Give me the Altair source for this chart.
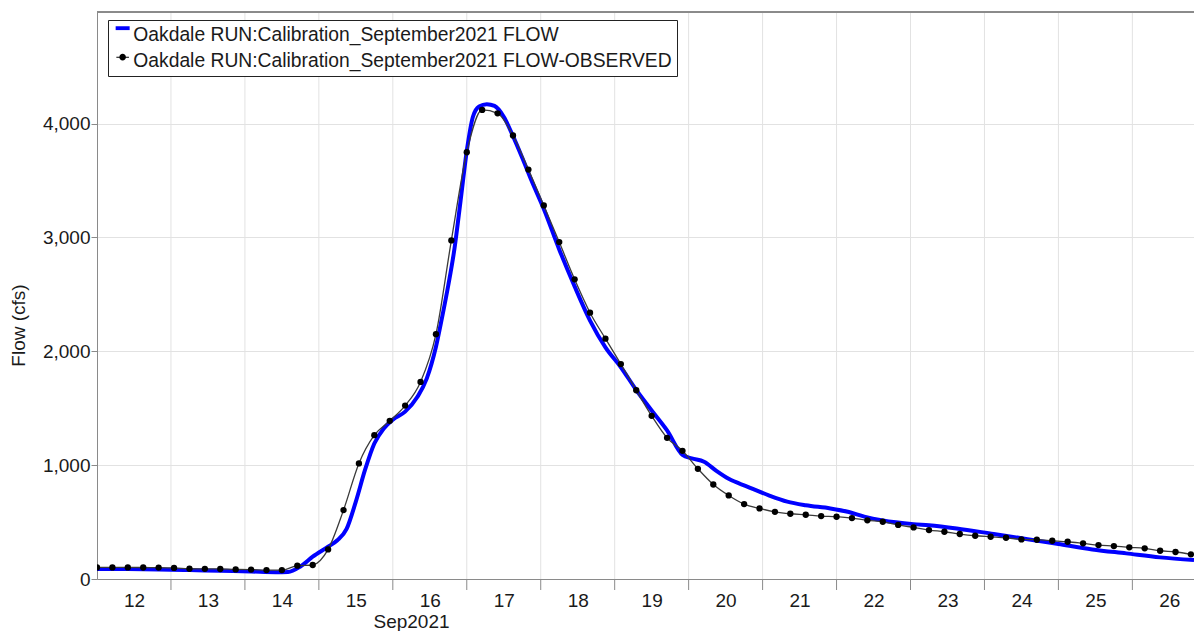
import altair as alt
import pandas as pd

# ---- data -------------------------------------------------------------
SIM_LABEL = "Oakdale RUN:Calibration_September2021 FLOW"
OBS_LABEL = "Oakdale RUN:Calibration_September2021 FLOW-OBSERVED"

# hours after 2021-09-12 00:00
obs_hours = list(range(0, 360, 5))
obs_flow = [
    102, 102, 102, 101, 100, 97, 90, 89, 88, 84, 83, 78,
    78, 117, 123, 260, 605, 1015, 1263, 1389, 1523, 1731, 2150, 2974,
    3748, 4120, 4090, 3895, 3596, 3281, 2959, 2632, 2339, 2111, 1888, 1658,
    1433, 1240, 1126, 968, 830, 734, 658, 620, 590, 573, 564, 553,
    547, 535, 515, 503, 475, 453, 430, 415, 395, 380, 371, 362,
    348, 345, 336, 327, 313, 298, 289, 278, 269, 248, 237, 217,
]

sim_hours = [
    0, 10, 20, 30, 40, 50, 58, 62, 66, 70, 75, 78, 81, 84, 87, 90, 93, 96,
    100, 104, 107, 110, 112, 114, 116, 118, 120, 122, 124, 126.5, 129, 132,
    135, 138, 141, 145, 150, 155, 160, 165, 170, 175, 180, 185, 190, 193,
    197, 201, 205, 211, 218, 224, 230, 238, 244, 249, 255, 265, 270, 279,
    291, 302, 312, 323, 334, 345, 356,
]
sim_flow = [
    88, 87, 84, 78, 72, 66, 60, 62, 110, 196, 284, 340, 440, 680, 960, 1190,
    1320, 1400, 1470, 1600, 1760, 2040, 2300, 2580, 2900, 3325, 3760, 4060,
    4150, 4170, 4155, 4060, 3890, 3700, 3500, 3250, 2895, 2570, 2270, 2035,
    1860, 1660, 1480, 1305, 1090, 1060, 1030, 950, 880, 812, 735, 680, 648,
    620, 588, 548, 514, 482, 472, 444, 395, 350, 307, 260, 225, 190, 167,
]

y_ticks = [0, 1000, 2000, 3000, 4000]
day_boundary_hours = [24, 48, 72, 96, 120, 144, 168, 192, 216, 240, 264, 288, 312, 336]
day_label_hours = [12, 36, 60, 84, 108, 132, 156, 180, 204, 228, 252, 276, 300, 324, 348]

base = pd.Timestamp("2021-09-12T00:00:00")


def iso(h):
    return (base + pd.Timedelta(hours=h)).strftime("%Y-%m-%dT%H:%M:%SZ")


sim_df = pd.DataFrame({"time": [iso(h) for h in sim_hours], "flow": sim_flow})
obs_df = pd.DataFrame({"time": [iso(h) for h in obs_hours], "flow": obs_flow})
day_df = pd.DataFrame({"time": [iso(h) for h in day_boundary_hours]})
# legend-only rows (lie below the y domain and are clipped away)
legend_df = pd.DataFrame({
    "time": [iso(0), iso(0)],
    "flow": [-2000, -2000],
    "series": [SIM_LABEL, OBS_LABEL],
})

# ---- layout -----------------------------------------------------------
W, H = 1097, 567
base_ms = int(base.tz_localize("UTC").timestamp() * 1000)
x_label_values = [base_ms + h * 3600 * 1000 for h in day_label_hours]

FONT = "Liberation Sans"
TXT = "#1a1a1a"
GRID = "#e2e2e2"
AXIS = "#8a8a8a"

x_scale = alt.Scale(
    type="utc",
    domain=[alt.DateTime(year=2021, month=9, date=12, hours=0, utc=True),
            alt.DateTime(year=2021, month=9, date=26, hours=20, utc=True)],
)
y_scale = alt.Scale(domain=[0, 4980], nice=False, zero=True)

x_axis = alt.Axis(
    values=x_label_values,
    format="%d",
    ticks=False,
    grid=False,
    domainColor=AXIS,
    labelPadding=12,
    labelFont=FONT,
    labelFontSize=19,
    labelColor=TXT,
    labelAlign="center",
    labelBaseline="top",
    labelOverlap=False,
    title="Sep2021",
    titleFont=FONT,
    titleFontSize=19,
    titleFontWeight="normal",
    titleColor=TXT,
    titleX=314,
    titleY=48,
    titleAlign="center",
    titleBaseline="alphabetic",
)

y_axis = alt.Axis(
    values=y_ticks,
    format=",.0f",
    tickSize=6,
    tickColor=AXIS,
    domainColor=AXIS,
    gridColor=GRID,
    labelPadding=1,
    labelFont=FONT,
    labelFontSize=19,
    labelColor=TXT,
    title="Flow (cfs)",
    titleFont=FONT,
    titleFontSize=19,
    titleFontWeight="normal",
    titleColor=TXT,
    titleAngle=270,
    titleX=-79,
    titleY=313,
    titleAlign="center",
    titleBaseline="middle",
)

SIM_SYMBOL = "M-1,-1.2L1,-1.2L1,-0.65L-1,-0.65Z"
OBS_SYMBOL = ("M-0.9,-0.57L0.9,-0.57L0.9,-0.43L-0.9,-0.43Z"
              "M-0.47,-0.5A0.47,0.47,0,1,1,0.47,-0.5A0.47,0.47,0,1,1,-0.47,-0.5Z")

legend = alt.Legend(
    title=None,
    orient="none",
    legendX=11,
    legendY=8,
    direction="vertical",
    strokeColor="#222222",
    fillColor="white",
    padding=5,
    labelFont=FONT,
    labelFontSize=19.3,
    labelColor=TXT,
    labelLimit=900,
    labelOffset=1,
    rowPadding=6,
    symbolSize=196,
    symbolStrokeWidth=0,
    symbolOpacity=1,
)

color_scale = alt.Scale(domain=[SIM_LABEL, OBS_LABEL], range=["#0000ff", "#000000"])
shape_scale = alt.Scale(domain=[SIM_LABEL, OBS_LABEL], range=[SIM_SYMBOL, OBS_SYMBOL])

x_enc = alt.X("time:T", scale=x_scale, axis=x_axis)
y_enc = alt.Y("flow:Q", scale=y_scale, axis=y_axis)

# vertical grid lines at each day boundary (drawn first, under the data)
day_grid = alt.Chart(day_df).mark_rule(color=GRID, strokeWidth=1).encode(x=x_enc)
# long ticks below the time axis at each day boundary
day_ticks = alt.Chart(day_df).mark_rule(color=AXIS, strokeWidth=1, clip=False).encode(
    x="time:T", y=alt.value(H), y2=alt.value(H + 11)
)

sim_line = alt.Chart(sim_df).mark_line(
    strokeWidth=4, color="#0000ff", interpolate="monotone", clip=True
).encode(x="time:T", y=y_enc)

obs_line = alt.Chart(obs_df).mark_line(
    strokeWidth=1.3, color="#3a3a3a", interpolate="monotone", clip=True
).encode(x="time:T", y="flow:Q")

obs_pts = alt.Chart(obs_df).mark_point(
    filled=True, size=40, opacity=1, color="#000000", clip=True
).encode(x="time:T", y="flow:Q")

legend_pts = alt.Chart(legend_df).mark_point(
    filled=True, size=40, clip=True
).encode(
    x="time:T", y="flow:Q",
    color=alt.Color("series:N", scale=color_scale, legend=legend),
    shape=alt.Shape("series:N", scale=shape_scale, legend=legend),
)

top_border = alt.Chart(sim_df).mark_rule(color=AXIS, strokeWidth=1).encode(
    x=alt.value(0), x2=alt.value(W), y=alt.value(0)
)

chart = alt.layer(
    day_grid, day_ticks, sim_line, obs_line, obs_pts, legend_pts, top_border
).properties(
    width=W,
    height=H,
    autosize=alt.AutoSizeParams(type="none"),
    padding={"left": 89, "top": 4, "right": 0, "bottom": 52},
    background="white",
).configure_view(stroke=None)

chart.save("out.html", embed_options={"renderer": "svg", "actions": False})
